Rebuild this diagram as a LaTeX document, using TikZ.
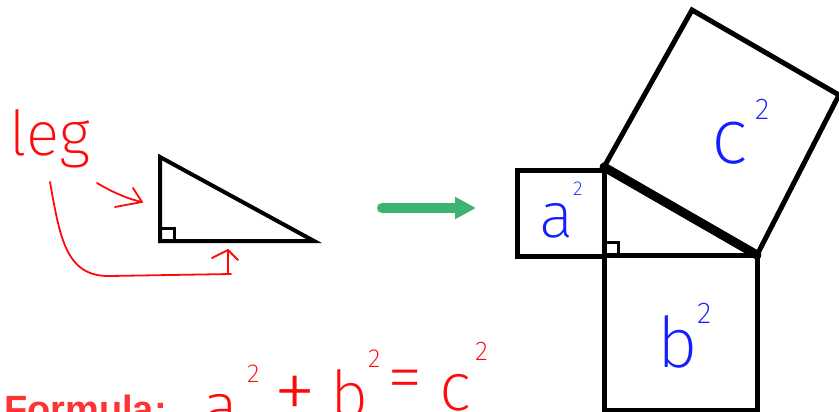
\documentclass[tikz,border=0pt]{standalone}
\usepackage{fontspec}
\newfontfamily\formfont{Liberation Sans}
\newfontfamily\handfont{Fira Sans}[UprightFont={* ExtraLight}]
\usetikzlibrary{arrows.meta}
\definecolor{hred}{RGB}{255,10,10}
\definecolor{hblue}{RGB}{20,30,255}
\definecolor{fred}{RGB}{255,51,51}
\definecolor{agreen}{RGB}{60,179,113}
\newcommand{\hsz}[1]{\fontsize{#1}{#1}\selectfont}
\begin{document}
\begin{tikzpicture}[x=1pt,y=-1pt,
  sqline/.style={draw=black,line width=5pt},
  thinline/.style={draw=black,line width=4pt},
  hypline/.style={draw=black,line width=9pt,line cap=round},
  ramark/.style={draw=black,line width=3pt},
  redline/.style={draw=hred,line width=1.8pt,line cap=round,line join=round},
  hand/.style={inner sep=0pt,anchor=base west,font=\handfont},
  redtxt/.style={hand,text=hred},
  bluetxt/.style={hand,text=hblue},
  sym/.style={inner sep=0pt,text=hred,font=\handfont},
  bigarrow/.style={draw=agreen,line width=10pt,line cap=round,-{Triangle[length=21pt,width=21pt]}}]
\useasboundingbox (0,0) rectangle (839,412);
\clip (0,0) rectangle (839,412);
% left triangle
\coordinate (L1) at (160,157);
\coordinate (L2) at (160,241);
\coordinate (L3) at (314,241);
\draw[thinline,line join=miter] (L1) -- (L2) -- (L3) -- cycle;
\draw[ramark] (160,228) rectangle (174,241);
% label leg and arrows
\node[redtxt] (leg) at (9,155) {\hsz{62}leg};
\coordinate (a1s) at (97,183);
\coordinate (a1e) at (142,202);
\coordinate (h1a) at (133,188);
\coordinate (h1b) at (115,207);
\draw[redline] (a1s) .. controls (112,192) and (128,199) .. (a1e);
\draw[redline] (h1a) -- (a1e) -- (h1b);
\coordinate (a2s) at (50,182);
\coordinate (a2m) at (231,274);
\coordinate (a2e) at (228,250);
\coordinate (h2a) at (212,258);
\coordinate (h2b) at (238,260);
\draw[redline] (a2s) .. controls (60,238) and (66,277) .. (110,276) -- (a2m);
\draw[redline] (228,273) -- (a2e);
\draw[redline] (h2a) -- (a2e) -- (h2b);
% green arrow
\coordinate (gs) at (382,208);
\coordinate (ge) at (476,208);
\draw[bigarrow] (gs) -- (ge);
% right figure
\coordinate (A) at (604,167);
\coordinate (C) at (604,255);
\coordinate (B) at (757,255);
\draw[sqline] (517,170) rectangle (604,256);
\draw[sqline] (604,255) rectangle (757,410);
\draw[sqline] (A) -- (B) -- (839,95) -- (692,10) -- cycle;
\draw[sqline] (A) -- (C) -- (B);
\draw[hypline] (A) -- (B);
\draw[ramark] (604,242) rectangle (618,255);
% blue labels
\node[bluetxt] (ta) at (539,237) {\hsz{64}a};
\node[bluetxt] (ta2) at (573,195) {\hsz{20}2};
\node[bluetxt] (tc) at (711,163) {\hsz{78}c};
\node[bluetxt] (tc2) at (755,120) {\hsz{30}2};
\node[bluetxt] (tb) at (657,367) {\hsz{70}b};
\node[bluetxt] (tb2) at (697,323) {\hsz{30}2};
% formula
\node[hand,text=fred,font=\formfont\bfseries] (form) at (4,422) {\hsz{38}Formula:};
\node[redtxt] (fa) at (202,430) {\hsz{68}a};
\node[redtxt] (fa2) at (247,382) {\hsz{26}2};
\node[sym] (fp) at (295,398) {\hsz{88}+};
\node[redtxt] (fb) at (330,418) {\hsz{66}b};
\node[redtxt] (fb2) at (368,367) {\hsz{26}2};
\node[sym] (fe) at (405,386) {\hsz{72}=};
\node[redtxt] (fc) at (439,410) {\hsz{68}c};
\node[redtxt] (fc2) at (475,360) {\hsz{27}2};
\end{tikzpicture}
\end{document}
